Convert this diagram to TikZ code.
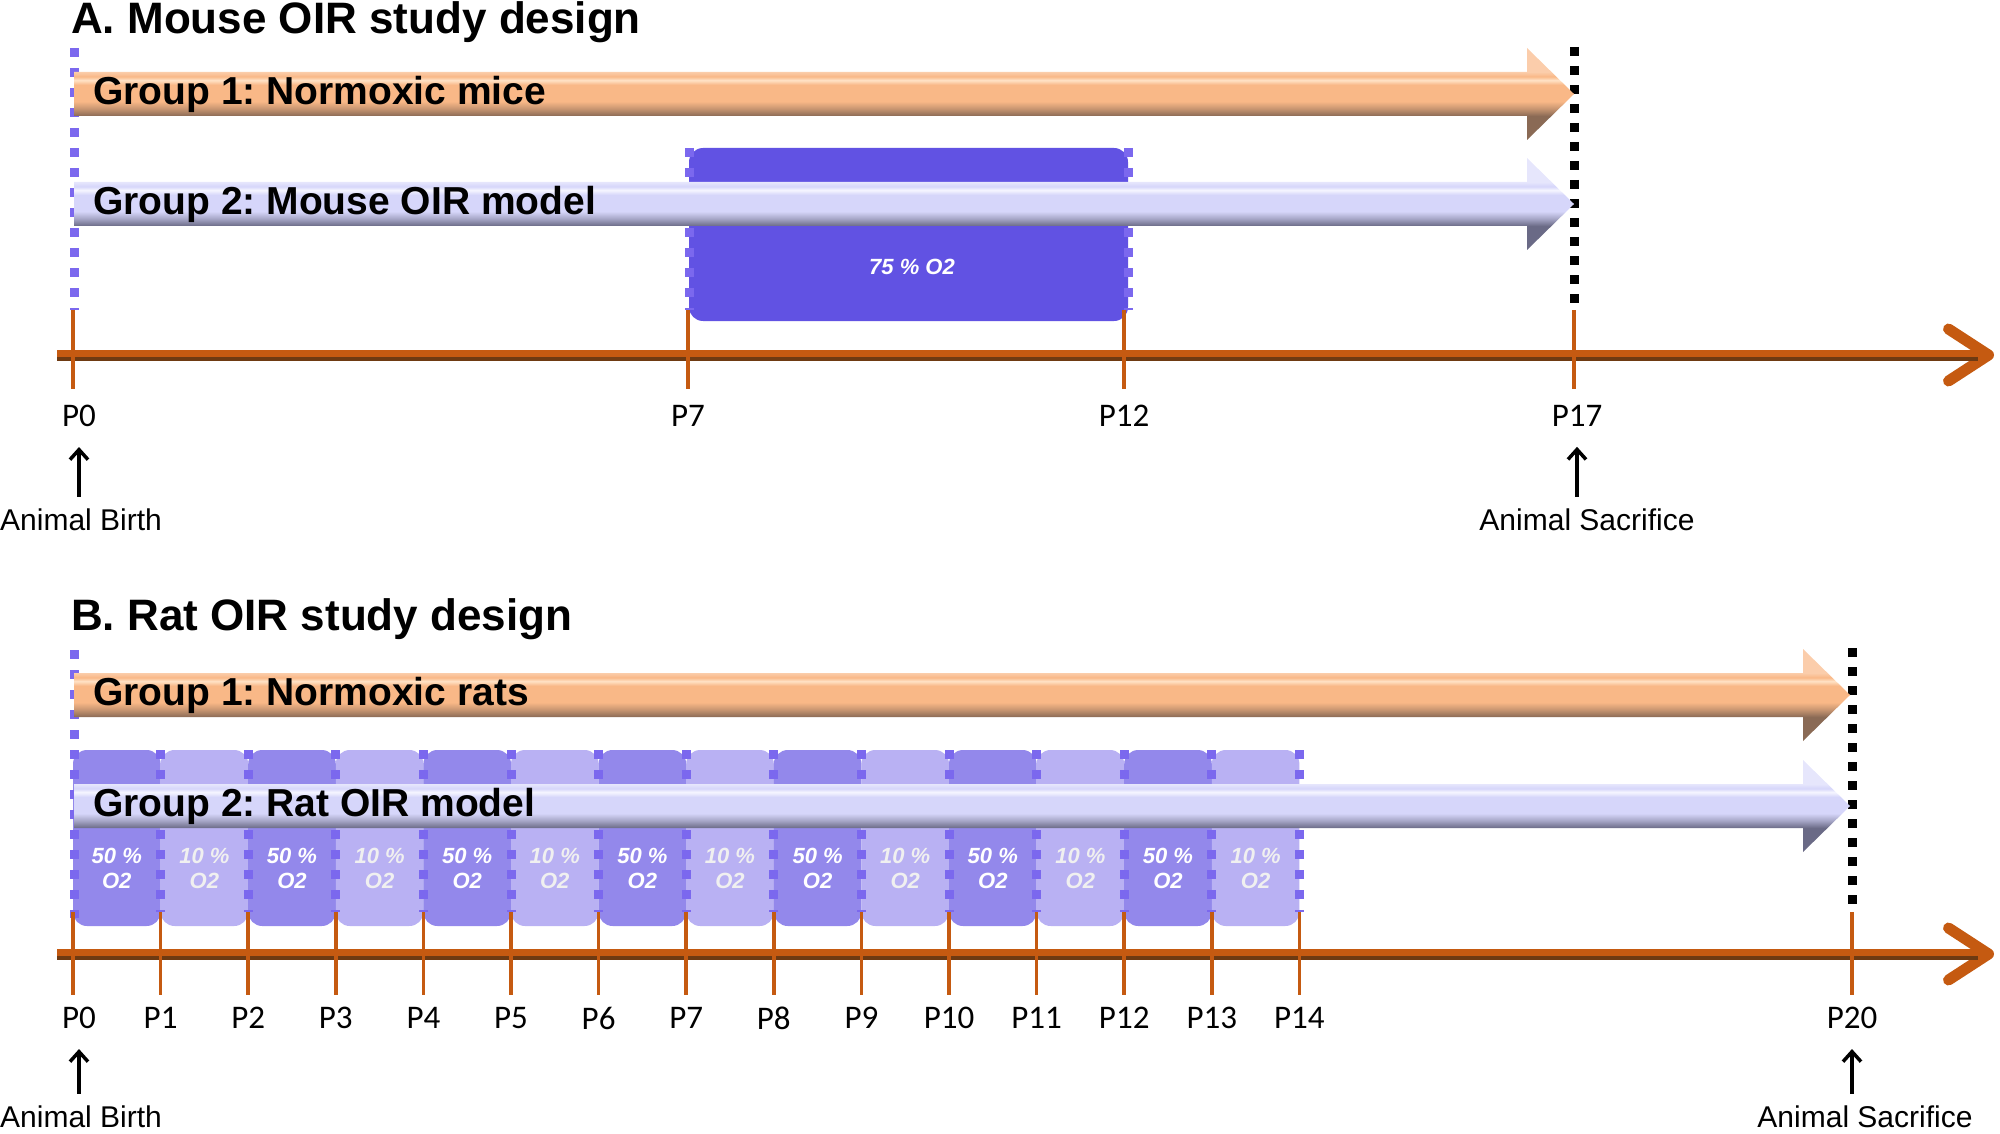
\documentclass[tikz,border=0pt]{standalone}
\usepackage{fontspec}
\setmainfont{Liberation Sans}
\newfontfamily\calibrifont{Carlito}
\usetikzlibrary{arrows.meta}
\frenchspacing

\definecolor{axisor}{HTML}{C55A11}
\definecolor{axisdk}{HTML}{6E3A12}
\definecolor{dotpurple}{HTML}{7B68EE}
\definecolor{orbase}{HTML}{F9B887}
\definecolor{orhi}{HTML}{FFE2C6}
\definecolor{ordk}{HTML}{8A6A55}
\definecolor{blbase}{HTML}{D6D6FA}
\definecolor{blhi}{HTML}{F6F6FF}
\definecolor{bldk}{HTML}{6A6A86}
\definecolor{boxhigh}{HTML}{6152E3}
\definecolor{boxfifty}{HTML}{9388EB}
\definecolor{boxten}{HTML}{B9B1F3}

\pgfdeclareverticalshading{orangebar}{100bp}{color(0bp)=(ordk); color(38bp)=(ordk); color(42bp)=(ordk!45!orbase); color(46bp)=(orbase); color(55bp)=(orbase); color(57.5bp)=(orhi); color(59.5bp)=(orbase); color(62bp)=(orbase!70!white); color(100bp)=(orbase!70!white)}
\pgfdeclareverticalshading{bluebar}{100bp}{color(0bp)=(bldk); color(38bp)=(bldk); color(42bp)=(bldk!45!blbase); color(46bp)=(blbase); color(55bp)=(blbase); color(57.5bp)=(blhi); color(59.5bp)=(blbase); color(62bp)=(blbase!60!white); color(100bp)=(blbase!60!white)}

% shading, centre y, tip x
\newcommand{\grouparrow}[3]{%
  \shade[shading=#1] (74,{#2-22}) -- ({#3-47},{#2-22}) -- ({#3-47},{#2-46}) -- (#3,#2)
    -- ({#3-47},{#2+46}) -- ({#3-47},{#2+22}) -- (74,{#2+22}) -- cycle;}

\begin{document}
\begin{tikzpicture}[x=1pt, y=-1pt,
    title/.style={font=\fontsize{44}{50}\selectfont\bfseries, anchor=west, inner sep=0pt},
    grouptxt/.style={font=\fontsize{39}{44}\selectfont\bfseries, anchor=west, inner sep=0pt},
    plab/.style={font=\calibrifont\fontsize{33}{36}\selectfont, inner sep=0pt},
    eventlab/.style={font=\fontsize{30}{34}\selectfont, inner sep=0pt},
    o2txt/.style={font=\fontsize{22}{25}\selectfont\bfseries\itshape, align=center, inner sep=0pt},
    o2box/.style={rounded corners=14pt},
    purpledots/.style={dotpurple, line width=9pt, dash pattern=on 9pt off 11pt},
    blackdots/.style={black, line width=9pt, dash pattern=on 9pt off 10pt},
    axisline/.style={axisor, line width=11pt, -{Straight Barb[length=40pt,width=52pt,round]}},
    tick/.style={axisor, line width=3.5pt},
    uparrow/.style={line width=3.5pt, -{Straight Barb[length=10pt,width=18pt]}, shorten <=12pt, shorten >=20pt}]
  \useasboundingbox (0,0) rectangle (2000,1134);

  % A. mouse
  \node[title] (titleA) at (71,22) {A. Mouse OIR study design};

  \fill[boxhigh, o2box] (689,148) rectangle (1128,321);
  \node[o2txt, text=white] (hyperA) at (912,267) {75 \% O2};
  \draw[purpledots] (74,48) -- (74,310);
  \foreach \x in {689,1128}
    \draw[purpledots] (\x,148) -- (\x,310);
  \draw[blackdots] (1574,47) -- (1574,310);

  \grouparrow{orangebar}{94}{1574}
  \grouparrow{bluebar}{204}{1574}
  \node[grouptxt] (normA) at (93,94) {Group 1: Normoxic mice};
  \node[grouptxt] (oirA) at (93,204) {Group 2: Mouse OIR model};

  \draw[axisline] (57,355) -- (1994,355);
  \draw[axisdk, line width=4pt] (57,358.5) -- (1978,358.5);
  \foreach \d/\x/\lx in {0/73/79, 7/688/688, 12/1124/1124, 17/1574/1577}
  {
    \draw[tick] (\x,310) -- (\x,389);
    \node[plab] (a\d) at (\lx,416) {P\d};
  }

  \node[eventlab, anchor=west] (birthA) at (0,520) {Animal Birth};
  \node[eventlab] (deathA) at (1587,520) {Animal Sacrifice};
  \draw[uparrow] (a0.south |- birthA.north) -- (a0.south);
  \draw[uparrow] (a17.south |- deathA.north) -- (a17.south);

  % B. rat
  \node[title] (titleB) at (71,619) {B. Rat OIR study design};

  \foreach \i in {0,...,13}
  {
    \pgfmathsetmacro\xl{73+87.6*\i}
    \pgfmathsetmacro\xr{73+87.6*(\i+1)}
    \pgfmathsetmacro\xm{73+87.6*(\i+0.5)}
    \ifodd\i
      \def\bc{boxten}\def\pc{10}\def\tc{white!88!gray}
    \else
      \def\bc{boxfifty}\def\pc{50}\def\tc{white}
    \fi
    \fill[\bc, o2box] (\xl,750) rectangle (\xr,926);
    \node[o2txt, text=\tc] (r\i) at (\xm,868) {\pc\ \%\\O2};
  }
  \draw[purpledots] (74,650) -- (74,918);
  \foreach \i in {1,...,14}
    \draw[purpledots] ({73+87.6*\i},750) -- ({73+87.6*\i},912);
  \draw[blackdots] (1852,648) -- (1852,912);

  \grouparrow{orangebar}{695}{1850}
  \grouparrow{bluebar}{806}{1850}
  \node[grouptxt] (normB) at (93,695) {Group 1: Normoxic rats};
  \node[grouptxt] (oirB) at (93,806) {Group 2: Rat OIR model};

  \draw[axisline] (57,954) -- (1994,954);
  \draw[axisdk, line width=4pt] (57,957.5) -- (1978,957.5);
  \foreach \i in {0,...,14}
  {
    \pgfmathsetmacro\x{73+87.6*\i}
    \pgfmathsetmacro\lx{\x+6*(\i==0)}
    \draw[tick] (\x,912) -- (\x,995);
    \node[plab] (b\i) at (\lx,1018) {P\i};
  }
  \draw[tick] (1852,912) -- (1852,995);
  \node[plab] (b20) at (1852,1018) {P20};

  \node[eventlab, anchor=west] (birthB) at (0,1117) {Animal Birth};
  \node[eventlab] (deathB) at (1865,1117) {Animal Sacrifice};
  \draw[uparrow] (b0.south |- birthB.north) -- (b0.south);
  \draw[uparrow] (b20.south |- deathB.north) -- (b20.south);
\end{tikzpicture}
\end{document}
